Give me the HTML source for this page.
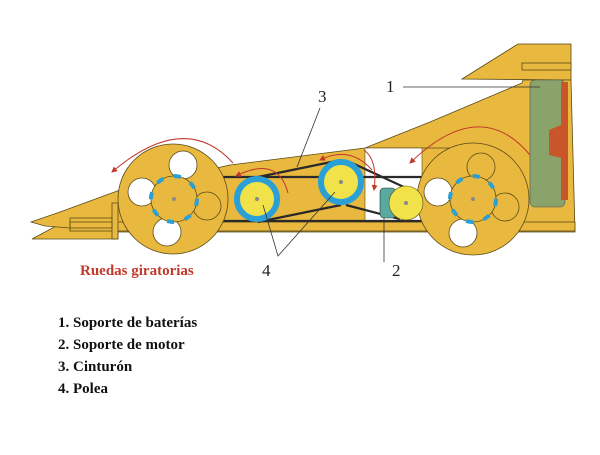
<!DOCTYPE html>
<html><head><meta charset="utf-8"><style>
body{margin:0;background:#fff;width:600px;height:450px;overflow:hidden;font-family:"Liberation Serif",serif}
</style></head><body>
<svg width="600" height="450" viewBox="0 0 600 450" xmlns="http://www.w3.org/2000/svg">
<defs><marker id="ah" markerWidth="6" markerHeight="6" refX="5" refY="3" orient="auto"><path d="M0,0 L6,3 L0,6 z" fill="#c0392b"/></marker></defs>
<g stroke="#5a4a18" stroke-width="0.8" fill="#e8b93e">
<!-- wing -->
<polygon points="462,79 518,44 571,44 571,80"/>
<rect x="522" y="63" width="49" height="7"/>
<!-- lower nose -->
<polygon points="32,239 73,217 118,215 118,239"/>
<!-- main body -->
<polygon points="31,222 60,212 120,190 230,165 365,148 430,122 522,83 523,80 571,80 575,232 118,232 118,228 70,228 45,226"/>
<!-- rail -->
<rect x="70" y="222" width="505" height="9"/>
<rect x="112" y="203" width="6" height="36"/>
<rect x="70" y="218" width="42" height="10" fill="none"/>
</g>
<line x1="365" y1="148" x2="460" y2="148" stroke="#5a4a18" stroke-width="0.8"/>
<rect x="365" y="148" width="57" height="74" fill="#fff" stroke="#5a4a18" stroke-width="0.6"/>
<rect x="530" y="80" width="35" height="127" rx="5" fill="#8aa36a" stroke="#555" stroke-width="0.6"/>
<path d="M561,82 L568,82 L568,200 L561,200 L561,158 L549,155 L549,130 L561,125 Z" fill="#c8562a"/>
<!-- belts -->
<g stroke="#2a2a2a" stroke-width="2.2" fill="none">
<line x1="172" y1="177" x2="473" y2="177"/>
<line x1="172" y1="221" x2="473" y2="221"/>
<line x1="258" y1="177" x2="341" y2="160"/>
<line x1="258" y1="222" x2="341" y2="205"/>
<line x1="352" y1="163" x2="406" y2="188"/>
<line x1="346" y1="205" x2="400" y2="219"/>
</g>
<!-- wheels -->
<g stroke="#5a4a18" stroke-width="0.8">
<circle cx="173" cy="199" r="55" fill="#e8b93e"/>
<circle cx="183" cy="165" r="14" fill="#fff"/>
<circle cx="142" cy="192" r="14" fill="#fff"/>
<circle cx="167" cy="232" r="14" fill="#fff"/>
<circle cx="207" cy="206" r="14" fill="#e8b93e"/>
<circle cx="174" cy="199" r="23" fill="#e8b93e"/>
<circle cx="473" cy="199" r="56" fill="#e8b93e"/>
<circle cx="481" cy="167" r="14" fill="#e8b93e"/>
<circle cx="438" cy="192" r="14" fill="#fff"/>
<circle cx="463" cy="233" r="14" fill="#fff"/>
<circle cx="505" cy="207" r="14" fill="#e8b93e"/>
<circle cx="473" cy="199" r="23" fill="#e8b93e"/>
</g>
<circle cx="174" cy="199" r="23" fill="none" stroke="#2aa0d6" stroke-width="4" stroke-dasharray="7 11"/>
<circle cx="473" cy="199" r="23" fill="none" stroke="#2aa0d6" stroke-width="4" stroke-dasharray="7 11"/>
<circle cx="174" cy="199" r="2" fill="#888"/>
<circle cx="473" cy="199" r="2" fill="#888"/>
<!-- pulleys -->
<circle cx="257" cy="199" r="20" fill="#f2e24a" stroke="#2aa0d6" stroke-width="6"/>
<circle cx="257" cy="199" r="2" fill="#888"/>
<circle cx="341" cy="182" r="20" fill="#f2e24a" stroke="#2aa0d6" stroke-width="6"/>
<circle cx="341" cy="182" r="2" fill="#888"/>
<rect x="380" y="188" width="16" height="30" rx="4" fill="#5aa9a0" stroke="#333" stroke-width="0.6"/>
<circle cx="406" cy="203" r="17" fill="#f2e24a" stroke="#5a4a18" stroke-width="0.6"/>
<circle cx="406" cy="203" r="2" fill="#888"/>
<!-- red arrows -->
<g stroke="#c0392b" stroke-width="1" fill="none" marker-end="url(#ah)">
<path d="M233,163 Q185,110 112,172"/>
<path d="M288,193 Q278,155 236,176"/>
<path d="M372,170 Q350,145 320,160"/>
<path d="M364,150 Q378,160 374,190"/>
<path d="M530,155 Q480,95 410,163"/>
</g>
<!-- leader lines -->
<g stroke="#333" stroke-width="0.8" fill="none">
<line x1="403" y1="87" x2="540" y2="87"/>
<line x1="320" y1="108" x2="297" y2="167"/>
<polyline points="263,205 278,256 335,192"/>
<line x1="384" y1="218" x2="384" y2="262"/>
</g>
<g font-family="Liberation Serif,serif" font-size="17" fill="#222">
<text x="386" y="92">1</text>
<text x="318" y="102">3</text>
<text x="262" y="276">4</text>
<text x="392" y="276">2</text>
</g>
<text x="80" y="275" font-size="15" font-weight="bold" fill="#c0392b">Ruedas giratorias</text>
<g font-size="15" font-weight="bold" fill="#111">
<text x="58" y="327">1. Soporte de baterías</text>
<text x="58" y="349">2. Soporte de motor</text>
<text x="58" y="371">3. Cinturón</text>
<text x="58" y="393">4. Polea</text>
</g>
</svg>
</body></html>
